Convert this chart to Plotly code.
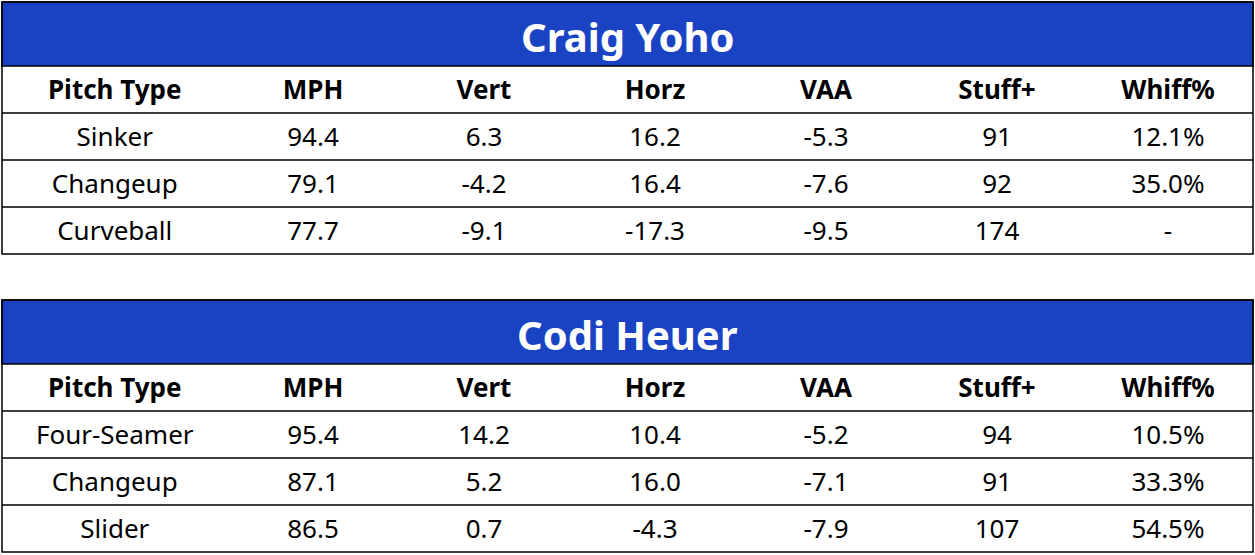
import plotly.graph_objects as go

columns = ["Pitch Type", "MPH", "Vert", "Horz", "VAA", "Stuff+", "Whiff%"]

title1 = "Craig Yoho"
pitches1 = ["Sinker", "Changeup", "Curveball"]
mph1 = ["94.4", "79.1", "77.7"]
vert1 = ["6.3", "-4.2", "-9.1"]
horz1 = ["16.2", "16.4", "-17.3"]
vaa1 = ["-5.3", "-7.6", "-9.5"]
stuff1 = ["91", "92", "174"]
whiff1 = ["12.1%", "35.0%", "-"]

title2 = "Codi Heuer"
pitches2 = ["Four-Seamer", "Changeup", "Slider"]
mph2 = ["95.4", "87.1", "86.5"]
vert2 = ["14.2", "5.2", "0.7"]
horz2 = ["10.4", "16.0", "-4.3"]
vaa2 = ["-5.2", "-7.1", "-7.9"]
stuff2 = ["94", "91", "107"]
whiff2 = ["10.5%", "33.3%", "54.5%"]

W, H = 1255, 555
BLUE = "#1a43c4"
FONT = "Noto Sans"
L, R = 2, 1253
col_edges = [L, 227.5] + [227.5 + 171 * i for i in range(1, 7)]
col_centers = [(col_edges[i] + col_edges[i + 1]) / 2 for i in range(7)]

fig = go.Figure()
shapes = []
annotations = []


def add_table(top, title, rows):
    band_h, row_h = 64, 47
    bottom = top + band_h + row_h * 4
    shapes.append(dict(type="rect", x0=L, x1=R, y0=top, y1=top + band_h,
                       fillcolor=BLUE, line=dict(color="black", width=1.5), layer="below"))
    shapes.append(dict(type="rect", x0=L, x1=R, y0=top, y1=bottom,
                       line=dict(color="black", width=1.5)))
    for k in range(1, 4):
        y = top + band_h + row_h * k
        shapes.append(dict(type="line", x0=L, x1=R, y0=y, y1=y,
                           line=dict(color="black", width=1.5)))
    annotations.append(dict(x=(L + R) / 2, y=top + band_h / 2 + 2, text="<b>%s</b>" % title,
                            showarrow=False, xref="x", yref="y",
                            font=dict(family=FONT, size=40, color="white")))
    hy = top + band_h + row_h / 2 + 3
    fig.add_trace(go.Scatter(x=col_centers, y=[hy] * 7, mode="text",
                             text=["<b>%s</b>" % c for c in columns],
                             textfont=dict(family=FONT, size=26, color="black"),
                             hoverinfo="skip", showlegend=False))
    for i, row in enumerate(zip(*rows)):
        y = top + band_h + row_h * (i + 1) + row_h / 2 + 3
        fig.add_trace(go.Scatter(x=col_centers, y=[y] * 7, mode="text", text=list(row),
                                 textfont=dict(family=FONT, size=26, color="black"),
                                 hoverinfo="skip", showlegend=False))


add_table(2, title1, [pitches1, mph1, vert1, horz1, vaa1, stuff1, whiff1])
add_table(300, title2, [pitches2, mph2, vert2, horz2, vaa2, stuff2, whiff2])

fig.update_layout(width=W, height=H, margin=dict(l=0, r=0, t=0, b=0),
                  paper_bgcolor="white", plot_bgcolor="white",
                  shapes=shapes, annotations=annotations,
                  xaxis=dict(range=[0, W], visible=False, fixedrange=True),
                  yaxis=dict(range=[H, 0], visible=False, fixedrange=True))
fig.write_html("out.html", config={"displayModeBar": False},
               post_script="document.body.style.margin='0';document.body.style.overflow='hidden';")
